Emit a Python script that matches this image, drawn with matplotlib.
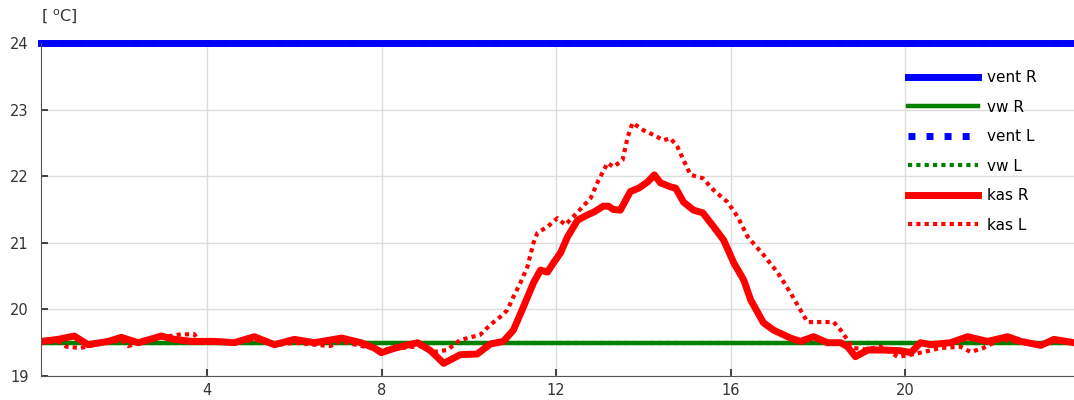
import matplotlib.pyplot as plt

# time of day [h]
t_kas_r = [0.19, 0.58, 0.95, 1.27, 1.73, 2.03, 2.42, 2.95, 3.25, 3.64, 4.16, 4.62,
           5.08, 5.54, 6.0, 6.46, 7.08, 7.53, 7.83, 7.99, 8.31, 8.82, 9.12, 9.42,
           9.8, 10.19, 10.49, 10.79, 11.02, 11.25, 11.48, 11.64, 11.8, 11.94, 12.1,
           12.26, 12.49, 12.72, 12.86, 13.08, 13.2, 13.31, 13.47, 13.7, 13.89, 14.09,
           14.25, 14.39, 14.62, 14.74, 14.92, 15.15, 15.36, 15.61, 15.84, 16.07,
           16.3, 16.46, 16.75, 16.98, 17.37, 17.6, 17.9, 18.22, 18.52, 18.68, 18.86,
           19.14, 19.51, 19.9, 20.13, 20.35, 20.58, 21.04, 21.43, 21.89, 22.35,
           22.65, 23.11, 23.41, 23.87]
kas_r = [19.52, 19.55, 19.6, 19.47, 19.52, 19.58, 19.5, 19.6, 19.55, 19.52, 19.52, 19.5,
         19.59, 19.47, 19.55, 19.5, 19.57, 19.5, 19.42, 19.35, 19.42, 19.5, 19.38, 19.19,
         19.32, 19.33, 19.48, 19.52, 19.69, 20.04, 20.4, 20.59, 20.56, 20.7, 20.85,
         21.09, 21.34, 21.42, 21.46, 21.55, 21.55, 21.5, 21.49, 21.77, 21.82, 21.91,
         22.02, 21.9, 21.84, 21.82, 21.61, 21.49, 21.45, 21.24, 21.04, 20.7,
         20.44, 20.14, 19.8, 19.69, 19.57, 19.52, 19.59, 19.5, 19.5, 19.44, 19.29,
         19.39, 19.39, 19.38, 19.35, 19.5, 19.47, 19.5, 19.59, 19.52, 19.59,
         19.52, 19.46, 19.55, 19.5]

t_kas_l = [0.19, 0.58, 0.77, 1.09, 1.43, 1.73, 2.03, 2.19, 2.47, 2.95, 3.34, 3.7, 3.84,
           4.16, 4.62, 5.08, 5.54, 6.0, 6.46, 6.82, 7.08, 7.53, 7.83, 7.99, 8.43, 8.89,
           9.18, 9.5, 9.8, 10.26, 10.49, 10.72, 10.88, 11.02, 11.18, 11.34, 11.48,
           11.57, 11.8, 12.03, 12.21, 12.49, 12.79, 12.97, 13.18, 13.31, 13.52, 13.64,
           13.75, 14.0, 14.23, 14.46, 14.62, 14.78, 14.92, 15.08, 15.36, 15.61, 15.93,
           16.16, 16.39, 16.75, 17.08, 17.37, 17.6, 17.76, 18.06, 18.36, 18.52, 18.68,
           18.82, 19.09, 19.43, 19.83, 20.06, 20.42, 20.81, 21.27, 21.5, 21.79, 22.18,
           22.65, 23.11, 23.45, 23.87]
kas_l = [19.5, 19.52, 19.44, 19.42, 19.47, 19.5, 19.54, 19.45, 19.5, 19.58, 19.62, 19.63, 19.5,
         19.5, 19.49, 19.55, 19.46, 19.5, 19.47, 19.45, 19.52, 19.45, 19.42, 19.39, 19.42, 19.45,
         19.36, 19.39, 19.54, 19.62, 19.77, 19.89, 19.99, 20.19, 20.4, 20.64, 21.0,
         21.15, 21.24, 21.37, 21.27, 21.46, 21.67, 21.94, 22.2, 22.14, 22.24, 22.59,
         22.8, 22.69, 22.62, 22.54, 22.57, 22.44, 22.24, 22.02, 21.97, 21.79, 21.61,
         21.39, 21.09, 20.82, 20.55, 20.25, 19.99, 19.81, 19.81, 19.81, 19.69, 19.54,
         19.42, 19.4, 19.44, 19.29, 19.31, 19.36, 19.42, 19.44, 19.36, 19.42, 19.55,
         19.5, 19.47, 19.52, 19.5]

# setpoints (constant over the day)
t_set = [0.19, 23.87]
vent_r = [24.0, 24.0]
vw_r = [19.5, 19.5]
vent_l = [24.0, 24.0]
vw_l = [19.5, 19.5]

x_ticks = [4, 8, 12, 16, 20]
y_ticks = [19, 20, 21, 22, 23, 24]

plt.rcParams['font.family'] = 'DejaVu Sans'
fig = plt.figure(figsize=(10.74, 4.0), dpi=100)
ax = fig.add_axes([41 / 1074, 24 / 400, 1 - 41 / 1074, 333 / 400])

ax.plot(t_set, vent_r, color='#0000ff', lw=5, label='vent R', clip_on=False)
ax.plot(t_set, vw_r, color='#008000', lw=3.2, label='vw R')
ax.plot(t_set, vent_l, color='#0000ff', lw=5, ls=(0, (1, 1.6)), label='vent L', clip_on=False)
ax.plot(t_set, vw_l, color='#008000', lw=3, ls=(0, (1, 1)), label='vw L')
ax.plot(t_kas_r, kas_r, color='#ff0000', lw=5, label='kas R')
ax.plot(t_kas_l, kas_l, color='#ff0000', lw=3, ls=(0, (1, 1)), label='kas L')

ax.set_xlim(0.19, 23.87)
ax.set_ylim(19, 24)
ax.set_xticks(x_ticks)
ax.set_yticks(y_ticks)
ax.grid(True, color='#dddddd', lw=1)
ax.set_axisbelow(True)
ax.tick_params(direction='in', length=5, width=1.2, colors='#222222',
               labelcolor='#333333', labelsize=10.5)
ax.tick_params(axis='x', pad=5)
ax.tick_params(axis='y', pad=9)
for side in ['top', 'right']:
    ax.spines[side].set_visible(False)
for side in ['left', 'bottom']:
    ax.spines[side].set_color('#555555')

fig.text(41 / 1074, 1 - 17 / 400, r'[ $^{\rm o}$C]', fontsize=11.5,
         color='#333333', va='center', ha='left')

ax.legend(loc='upper left', bbox_to_anchor=(0.826, 0.96), frameon=False,
          fontsize=11, handlelength=4.6, handletextpad=0.6, labelspacing=0.95)

fig.savefig('out.png', dpi=100)
